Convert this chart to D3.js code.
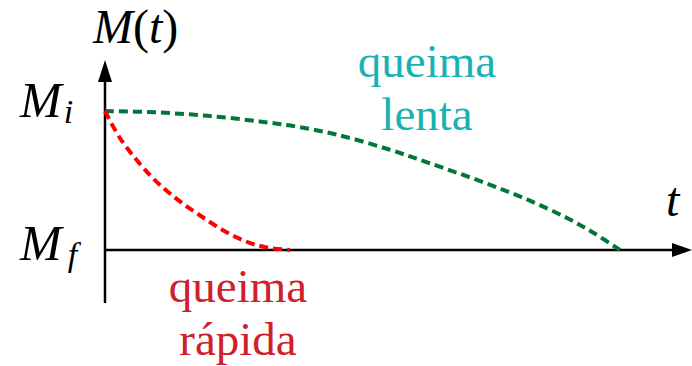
<!DOCTYPE html>
<html>
<head>
<meta charset="utf-8">
<script src="https://cdn.jsdelivr.net/npm/d3@7"></script>
</head>
<body style="margin:0">
<script>
// ===== Data (t normalised so slow burn ends at 1, M: Mf = 0, Mi = 1) =====
const slowT = [0, 0.1, 0.2, 0.3, 0.36, 0.45, 0.55, 0.63, 0.74, 0.825, 0.9, 0.95, 1.0];
const slowM = [1, 0.99, 0.965, 0.925, 0.895, 0.83, 0.725, 0.625, 0.48, 0.355, 0.225, 0.12, 0.0];

const fastT = [0, 0.03, 0.087, 0.135, 0.184, 0.235, 0.282, 0.32, 0.359];
const fastM = [1, 0.8, 0.54, 0.38, 0.25, 0.13, 0.05, 0.015, 0.0];

const slowLabel = ["queima", "lenta"];
const fastLabel = ["queima", "r\u00e1pida"];

const width = 692, height = 366;
const serifFont = "'Liberation Serif'";

const svg = d3.select("body").append("svg")
    .attr("width", width)
    .attr("height", height);

// scales
const x = d3.scaleLinear().domain([0, 1]).range([105, 620]);
const y = d3.scaleLinear().domain([0, 1]).range([250, 111]);

// axes (lines + arrowheads)
const yTop = 82, xEnd = 672;

svg.append("line")
    .attr("x1", x(0)).attr("y1", 303)
    .attr("x2", x(0)).attr("y2", yTop)
    .attr("stroke", "#000").attr("stroke-width", 2.5);
svg.append("path")
    .attr("d", `M${x(0) - 7},${yTop} L${x(0)},${yTop - 22} L${x(0) + 7},${yTop} Z`)
    .attr("fill", "#000");

svg.append("line")
    .attr("x1", x(0)).attr("y1", y(0))
    .attr("x2", xEnd).attr("y2", y(0))
    .attr("stroke", "#000").attr("stroke-width", 2.5);
svg.append("path")
    .attr("d", `M${xEnd},${y(0) - 7} L${xEnd + 20},${y(0)} L${xEnd},${y(0) + 7} Z`)
    .attr("fill", "#000");

// curves
const line = d3.line()
    .x(d => x(d[0]))
    .y(d => y(d[1]))
    .curve(d3.curveCatmullRom);

svg.append("path")
    .datum(slowT.map((t, i) => [t, slowM[i]]))
    .attr("d", line)
    .attr("fill", "none")
    .attr("stroke", "#00773a")
    .attr("stroke-width", 4)
    .attr("stroke-dasharray", "9,5");

svg.append("path")
    .datum(fastT.map((t, i) => [t, fastM[i]]))
    .attr("d", line)
    .attr("fill", "none")
    .attr("stroke", "#ff0000")
    .attr("stroke-width", 4)
    .attr("stroke-dasharray", "9,5");

// axis labels
const mt = svg.append("text")
    .attr("x", 93).attr("y", 43)
    .attr("font-family", serifFont)
    .attr("font-size", 48);
mt.append("tspan").attr("font-style", "italic").text("M");
mt.append("tspan").text("(");
mt.append("tspan").attr("font-style", "italic").text("t");
mt.append("tspan").text(")");

const mi = svg.append("text")
    .attr("x", 20).attr("y", 117)
    .attr("font-family", serifFont)
    .attr("font-size", 50).attr("font-style", "italic");
mi.append("tspan").text("M");
mi.append("tspan").attr("font-size", 34).attr("dx", 2).attr("dy", 6).text("i");

const mf = svg.append("text")
    .attr("x", 20).attr("y", 260)
    .attr("font-family", serifFont)
    .attr("font-size", 50).attr("font-style", "italic");
mf.append("tspan").text("M");
mf.append("tspan").attr("font-size", 34).attr("dx", 6).attr("dy", 6).text("f");

svg.append("text")
    .attr("x", 666).attr("y", 216)
    .attr("font-family", serifFont)
    .attr("font-size", 48).attr("font-style", "italic")
    .text("t");

// curve labels
svg.selectAll("text.slow")
    .data(slowLabel)
    .enter()
    .append("text")
    .attr("class", "slow")
    .attr("x", 427)
    .attr("y", (d, i) => 77 + i * 53)
    .attr("text-anchor", "middle")
    .attr("font-family", serifFont)
    .attr("font-size", 47)
    .attr("fill", "#19b2b2")
    .text(d => d);

svg.selectAll("text.fast")
    .data(fastLabel)
    .enter()
    .append("text")
    .attr("class", "fast")
    .attr("x", 238)
    .attr("y", (d, i) => 302 + i * 53)
    .attr("text-anchor", "middle")
    .attr("font-family", serifFont)
    .attr("font-size", 47)
    .attr("fill", "#d0202c")
    .text(d => d);
</script>
</body>
</html>
